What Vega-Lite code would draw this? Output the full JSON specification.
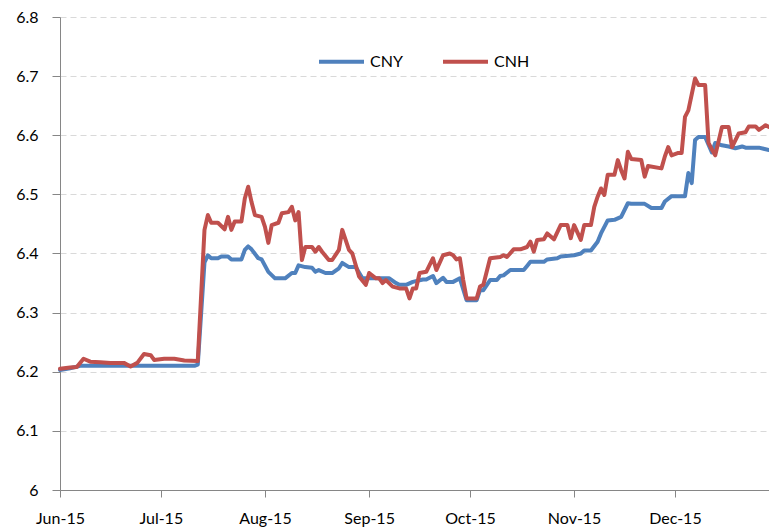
{
  "$schema": "https://vega.github.io/schema/vega-lite/v6.json",
  "width": 709,
  "height": 473,
  "autosize": {"type": "none"},
  "padding": {"left": 60, "top": 17, "right": 0, "bottom": 40},
  "background": "white",
  "config": {"view": {"stroke": null}, "font": "Lato"},
  "data": {"values": [
    {"date":"2015-06-01","series":"CNY","rate":6.203},
    {"date":"2015-06-04","series":"CNY","rate":6.206},
    {"date":"2015-06-07","series":"CNY","rate":6.21},
    {"date":"2015-06-13","series":"CNY","rate":6.21},
    {"date":"2015-06-28","series":"CNY","rate":6.21},
    {"date":"2015-07-11","series":"CNY","rate":6.21},
    {"date":"2015-07-12","series":"CNY","rate":6.212},
    {"date":"2015-07-14","series":"CNY","rate":6.385},
    {"date":"2015-07-15","series":"CNY","rate":6.397},
    {"date":"2015-07-16","series":"CNY","rate":6.392},
    {"date":"2015-07-18","series":"CNY","rate":6.392},
    {"date":"2015-07-19","series":"CNY","rate":6.395},
    {"date":"2015-07-21","series":"CNY","rate":6.395},
    {"date":"2015-07-22","series":"CNY","rate":6.39},
    {"date":"2015-07-25","series":"CNY","rate":6.39},
    {"date":"2015-07-26","series":"CNY","rate":6.406},
    {"date":"2015-07-27","series":"CNY","rate":6.412},
    {"date":"2015-07-28","series":"CNY","rate":6.407},
    {"date":"2015-07-30","series":"CNY","rate":6.392},
    {"date":"2015-07-31","series":"CNY","rate":6.39},
    {"date":"2015-08-02","series":"CNY","rate":6.369},
    {"date":"2015-08-04","series":"CNY","rate":6.358},
    {"date":"2015-08-07","series":"CNY","rate":6.358},
    {"date":"2015-08-09","series":"CNY","rate":6.367},
    {"date":"2015-08-10","series":"CNY","rate":6.367},
    {"date":"2015-08-11","series":"CNY","rate":6.38},
    {"date":"2015-08-13","series":"CNY","rate":6.377},
    {"date":"2015-08-15","series":"CNY","rate":6.376},
    {"date":"2015-08-16","series":"CNY","rate":6.369},
    {"date":"2015-08-17","series":"CNY","rate":6.372},
    {"date":"2015-08-19","series":"CNY","rate":6.367},
    {"date":"2015-08-21","series":"CNY","rate":6.367},
    {"date":"2015-08-23","series":"CNY","rate":6.375},
    {"date":"2015-08-24","series":"CNY","rate":6.384},
    {"date":"2015-08-26","series":"CNY","rate":6.377},
    {"date":"2015-08-28","series":"CNY","rate":6.377},
    {"date":"2015-08-30","series":"CNY","rate":6.358},
    {"date":"2015-09-07","series":"CNY","rate":6.358},
    {"date":"2015-09-09","series":"CNY","rate":6.35},
    {"date":"2015-09-10","series":"CNY","rate":6.347},
    {"date":"2015-09-12","series":"CNY","rate":6.347},
    {"date":"2015-09-14","series":"CNY","rate":6.352},
    {"date":"2015-09-17","series":"CNY","rate":6.356},
    {"date":"2015-09-18","series":"CNY","rate":6.356},
    {"date":"2015-09-20","series":"CNY","rate":6.362},
    {"date":"2015-09-21","series":"CNY","rate":6.35},
    {"date":"2015-09-23","series":"CNY","rate":6.359},
    {"date":"2015-09-24","series":"CNY","rate":6.352},
    {"date":"2015-09-26","series":"CNY","rate":6.352},
    {"date":"2015-09-28","series":"CNY","rate":6.358},
    {"date":"2015-09-30","series":"CNY","rate":6.321},
    {"date":"2015-10-03","series":"CNY","rate":6.321},
    {"date":"2015-10-04","series":"CNY","rate":6.338},
    {"date":"2015-10-05","series":"CNY","rate":6.338},
    {"date":"2015-10-07","series":"CNY","rate":6.355},
    {"date":"2015-10-09","series":"CNY","rate":6.355},
    {"date":"2015-10-10","series":"CNY","rate":6.362},
    {"date":"2015-10-11","series":"CNY","rate":6.363},
    {"date":"2015-10-13","series":"CNY","rate":6.372},
    {"date":"2015-10-17","series":"CNY","rate":6.372},
    {"date":"2015-10-18","series":"CNY","rate":6.379},
    {"date":"2015-10-19","series":"CNY","rate":6.386},
    {"date":"2015-10-23","series":"CNY","rate":6.386},
    {"date":"2015-10-24","series":"CNY","rate":6.39},
    {"date":"2015-10-27","series":"CNY","rate":6.392},
    {"date":"2015-10-28","series":"CNY","rate":6.395},
    {"date":"2015-11-01","series":"CNY","rate":6.397},
    {"date":"2015-11-03","series":"CNY","rate":6.4},
    {"date":"2015-11-04","series":"CNY","rate":6.405},
    {"date":"2015-11-06","series":"CNY","rate":6.405},
    {"date":"2015-11-08","series":"CNY","rate":6.42},
    {"date":"2015-11-09","series":"CNY","rate":6.434},
    {"date":"2015-11-11","series":"CNY","rate":6.456},
    {"date":"2015-11-13","series":"CNY","rate":6.457},
    {"date":"2015-11-15","series":"CNY","rate":6.462},
    {"date":"2015-11-17","series":"CNY","rate":6.485},
    {"date":"2015-11-18","series":"CNY","rate":6.484},
    {"date":"2015-11-22","series":"CNY","rate":6.484},
    {"date":"2015-11-24","series":"CNY","rate":6.477},
    {"date":"2015-11-27","series":"CNY","rate":6.477},
    {"date":"2015-11-28","series":"CNY","rate":6.488},
    {"date":"2015-11-30","series":"CNY","rate":6.497},
    {"date":"2015-12-04","series":"CNY","rate":6.497},
    {"date":"2015-12-05","series":"CNY","rate":6.536},
    {"date":"2015-12-06","series":"CNY","rate":6.519},
    {"date":"2015-12-07","series":"CNY","rate":6.592},
    {"date":"2015-12-08","series":"CNY","rate":6.597},
    {"date":"2015-12-10","series":"CNY","rate":6.597},
    {"date":"2015-12-12","series":"CNY","rate":6.571},
    {"date":"2015-12-13","series":"CNY","rate":6.587},
    {"date":"2015-12-15","series":"CNY","rate":6.583},
    {"date":"2015-12-17","series":"CNY","rate":6.581},
    {"date":"2015-12-19","series":"CNY","rate":6.578},
    {"date":"2015-12-21","series":"CNY","rate":6.581},
    {"date":"2015-12-22","series":"CNY","rate":6.579},
    {"date":"2015-12-26","series":"CNY","rate":6.579},
    {"date":"2015-12-29","series":"CNY","rate":6.575},
    {"date":"2015-06-01","series":"CNH","rate":6.205},
    {"date":"2015-06-04","series":"CNH","rate":6.207},
    {"date":"2015-06-06","series":"CNH","rate":6.208},
    {"date":"2015-06-08","series":"CNH","rate":6.222},
    {"date":"2015-06-10","series":"CNH","rate":6.217},
    {"date":"2015-06-13","series":"CNH","rate":6.216},
    {"date":"2015-06-16","series":"CNH","rate":6.215},
    {"date":"2015-06-20","series":"CNH","rate":6.215},
    {"date":"2015-06-22","series":"CNH","rate":6.209},
    {"date":"2015-06-24","series":"CNH","rate":6.215},
    {"date":"2015-06-26","series":"CNH","rate":6.23},
    {"date":"2015-06-28","series":"CNH","rate":6.228},
    {"date":"2015-06-29","series":"CNH","rate":6.22},
    {"date":"2015-07-02","series":"CNH","rate":6.222},
    {"date":"2015-07-05","series":"CNH","rate":6.222},
    {"date":"2015-07-08","series":"CNH","rate":6.219},
    {"date":"2015-07-12","series":"CNH","rate":6.218},
    {"date":"2015-07-14","series":"CNH","rate":6.44},
    {"date":"2015-07-15","series":"CNH","rate":6.465},
    {"date":"2015-07-16","series":"CNH","rate":6.452},
    {"date":"2015-07-18","series":"CNH","rate":6.452},
    {"date":"2015-07-20","series":"CNH","rate":6.441},
    {"date":"2015-07-21","series":"CNH","rate":6.462},
    {"date":"2015-07-22","series":"CNH","rate":6.44},
    {"date":"2015-07-23","series":"CNH","rate":6.454},
    {"date":"2015-07-25","series":"CNH","rate":6.454},
    {"date":"2015-07-26","series":"CNH","rate":6.493},
    {"date":"2015-07-27","series":"CNH","rate":6.513},
    {"date":"2015-07-28","series":"CNH","rate":6.487},
    {"date":"2015-07-29","series":"CNH","rate":6.465},
    {"date":"2015-07-31","series":"CNH","rate":6.462},
    {"date":"2015-08-01","series":"CNH","rate":6.445},
    {"date":"2015-08-02","series":"CNH","rate":6.418},
    {"date":"2015-08-03","series":"CNH","rate":6.448},
    {"date":"2015-08-05","series":"CNH","rate":6.452},
    {"date":"2015-08-06","series":"CNH","rate":6.468},
    {"date":"2015-08-08","series":"CNH","rate":6.47},
    {"date":"2015-08-09","series":"CNH","rate":6.479},
    {"date":"2015-08-10","series":"CNH","rate":6.456},
    {"date":"2015-08-11","series":"CNH","rate":6.47},
    {"date":"2015-08-12","series":"CNH","rate":6.389},
    {"date":"2015-08-13","series":"CNH","rate":6.411},
    {"date":"2015-08-15","series":"CNH","rate":6.411},
    {"date":"2015-08-16","series":"CNH","rate":6.403},
    {"date":"2015-08-17","series":"CNH","rate":6.411},
    {"date":"2015-08-18","series":"CNH","rate":6.403},
    {"date":"2015-08-20","series":"CNH","rate":6.389},
    {"date":"2015-08-21","series":"CNH","rate":6.389},
    {"date":"2015-08-23","series":"CNH","rate":6.406},
    {"date":"2015-08-24","series":"CNH","rate":6.44},
    {"date":"2015-08-26","series":"CNH","rate":6.406},
    {"date":"2015-08-27","series":"CNH","rate":6.4},
    {"date":"2015-08-29","series":"CNH","rate":6.361},
    {"date":"2015-08-31","series":"CNH","rate":6.347},
    {"date":"2015-09-01","series":"CNH","rate":6.367},
    {"date":"2015-09-03","series":"CNH","rate":6.358},
    {"date":"2015-09-04","series":"CNH","rate":6.358},
    {"date":"2015-09-05","series":"CNH","rate":6.35},
    {"date":"2015-09-06","series":"CNH","rate":6.355},
    {"date":"2015-09-08","series":"CNH","rate":6.344},
    {"date":"2015-09-10","series":"CNH","rate":6.341},
    {"date":"2015-09-12","series":"CNH","rate":6.341},
    {"date":"2015-09-13","series":"CNH","rate":6.324},
    {"date":"2015-09-14","series":"CNH","rate":6.341},
    {"date":"2015-09-15","series":"CNH","rate":6.341},
    {"date":"2015-09-16","series":"CNH","rate":6.367},
    {"date":"2015-09-18","series":"CNH","rate":6.369},
    {"date":"2015-09-20","series":"CNH","rate":6.392},
    {"date":"2015-09-21","series":"CNH","rate":6.372},
    {"date":"2015-09-23","series":"CNH","rate":6.397},
    {"date":"2015-09-25","series":"CNH","rate":6.4},
    {"date":"2015-09-26","series":"CNH","rate":6.397},
    {"date":"2015-09-27","series":"CNH","rate":6.39},
    {"date":"2015-09-28","series":"CNH","rate":6.392},
    {"date":"2015-09-29","series":"CNH","rate":6.355},
    {"date":"2015-09-30","series":"CNH","rate":6.324},
    {"date":"2015-10-03","series":"CNH","rate":6.324},
    {"date":"2015-10-04","series":"CNH","rate":6.344},
    {"date":"2015-10-05","series":"CNH","rate":6.347},
    {"date":"2015-10-07","series":"CNH","rate":6.392},
    {"date":"2015-10-10","series":"CNH","rate":6.394},
    {"date":"2015-10-11","series":"CNH","rate":6.397},
    {"date":"2015-10-12","series":"CNH","rate":6.394},
    {"date":"2015-10-14","series":"CNH","rate":6.407},
    {"date":"2015-10-16","series":"CNH","rate":6.407},
    {"date":"2015-10-18","series":"CNH","rate":6.411},
    {"date":"2015-10-19","series":"CNH","rate":6.42},
    {"date":"2015-10-20","series":"CNH","rate":6.403},
    {"date":"2015-10-21","series":"CNH","rate":6.423},
    {"date":"2015-10-23","series":"CNH","rate":6.424},
    {"date":"2015-10-24","series":"CNH","rate":6.434},
    {"date":"2015-10-26","series":"CNH","rate":6.424},
    {"date":"2015-10-28","series":"CNH","rate":6.448},
    {"date":"2015-10-30","series":"CNH","rate":6.448},
    {"date":"2015-10-31","series":"CNH","rate":6.426},
    {"date":"2015-11-01","series":"CNH","rate":6.448},
    {"date":"2015-11-03","series":"CNH","rate":6.423},
    {"date":"2015-11-04","series":"CNH","rate":6.448},
    {"date":"2015-11-06","series":"CNH","rate":6.448},
    {"date":"2015-11-07","series":"CNH","rate":6.479},
    {"date":"2015-11-08","series":"CNH","rate":6.496},
    {"date":"2015-11-09","series":"CNH","rate":6.51},
    {"date":"2015-11-10","series":"CNH","rate":6.499},
    {"date":"2015-11-11","series":"CNH","rate":6.533},
    {"date":"2015-11-13","series":"CNH","rate":6.533},
    {"date":"2015-11-14","series":"CNH","rate":6.558},
    {"date":"2015-11-15","series":"CNH","rate":6.541},
    {"date":"2015-11-16","series":"CNH","rate":6.527},
    {"date":"2015-11-17","series":"CNH","rate":6.572},
    {"date":"2015-11-18","series":"CNH","rate":6.56},
    {"date":"2015-11-21","series":"CNH","rate":6.558},
    {"date":"2015-11-22","series":"CNH","rate":6.53},
    {"date":"2015-11-23","series":"CNH","rate":6.548},
    {"date":"2015-11-27","series":"CNH","rate":6.544},
    {"date":"2015-11-28","series":"CNH","rate":6.564},
    {"date":"2015-11-29","series":"CNH","rate":6.58},
    {"date":"2015-11-30","series":"CNH","rate":6.566},
    {"date":"2015-12-02","series":"CNH","rate":6.57},
    {"date":"2015-12-03","series":"CNH","rate":6.57},
    {"date":"2015-12-04","series":"CNH","rate":6.631},
    {"date":"2015-12-05","series":"CNH","rate":6.642},
    {"date":"2015-12-07","series":"CNH","rate":6.696},
    {"date":"2015-12-08","series":"CNH","rate":6.685},
    {"date":"2015-12-10","series":"CNH","rate":6.685},
    {"date":"2015-12-11","series":"CNH","rate":6.587},
    {"date":"2015-12-12","series":"CNH","rate":6.576},
    {"date":"2015-12-13","series":"CNH","rate":6.566},
    {"date":"2015-12-15","series":"CNH","rate":6.614},
    {"date":"2015-12-17","series":"CNH","rate":6.614},
    {"date":"2015-12-18","series":"CNH","rate":6.58},
    {"date":"2015-12-20","series":"CNH","rate":6.603},
    {"date":"2015-12-22","series":"CNH","rate":6.605},
    {"date":"2015-12-23","series":"CNH","rate":6.615},
    {"date":"2015-12-25","series":"CNH","rate":6.615},
    {"date":"2015-12-26","series":"CNH","rate":6.609},
    {"date":"2015-12-28","series":"CNH","rate":6.617},
    {"date":"2015-12-29","series":"CNH","rate":6.614}
  ]},
  "mark": {"type": "line", "strokeWidth": 4, "strokeJoin": "round", "strokeCap": "round"},
  "encoding": {
    "x": {
      "field": "date", "type": "temporal", "title": null,
      "scale": {"type": "utc", "domain": [{"year": 2015, "month": "jun", "date": 1, "utc": true}, {"year": 2015, "month": "dec", "date": 29, "utc": true}], "nice": false},
      "axis": {"format": "%b-%y", "tickCount": {"interval": "month", "step": 1}, "grid": false, "domainColor": "#868686", "tickColor": "#868686", "tickSize": 7, "labelFontSize": 16, "labelColor": "#000000", "labelPadding": 13, "labelFlush": false, "labelOverlap": false}
    },
    "y": {
      "field": "rate", "type": "quantitative", "title": null,
      "scale": {"domain": [6, 6.8], "nice": false, "zero": false},
      "axis": {"values": [6, 6.1, 6.2, 6.3, 6.4, 6.5, 6.6, 6.7, 6.8], "format": ".1~f", "grid": true, "gridDash": [6, 4], "gridColor": "#d9d9d9", "domainColor": "#868686", "tickColor": "#868686", "tickSize": 8, "labelFontSize": 16, "labelColor": "#000000", "labelPadding": 14}
    },
    "color": {
      "field": "series", "type": "nominal",
      "scale": {"domain": ["CNY", "CNH"], "range": ["#4F81BD", "#C0504D"]},
      "legend": {"title": null, "orient": "none", "legendX": 257, "legendY": 20, "direction": "horizontal", "symbolType": "stroke", "symbolSize": 2025, "symbolStrokeWidth": 4, "labelFontSize": 16, "labelColor": "#000000", "columnPadding": 32, "labelOffset": 4}
    }
  }
}
